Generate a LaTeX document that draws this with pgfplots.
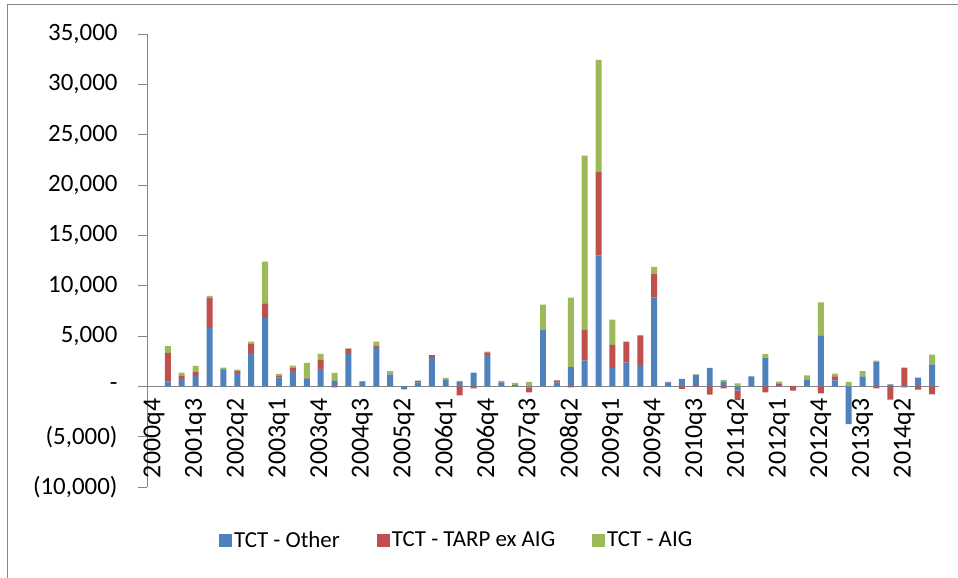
\documentclass[border=0pt]{standalone}
\usepackage{pgfplots}
\usepackage{pgfplotstable}
\pgfplotsset{compat=1.18}
\usepackage{fontspec}
\setmainfont{Carlito}

\definecolor{xlblue}{HTML}{4F81BD}
\definecolor{xlred}{HTML}{C0504D}
\definecolor{xlgreen}{HTML}{9BBB59}
\definecolor{axisgray}{HTML}{868686}

% quarter index, TCT components (millions)
\pgfplotstableread{
i  other  tarp   aig
0  0      0      0
1  470    2860   660
2  740    300    330
3  1040   360    630
4  5800   2950   230
5  1660   50     150
6  1300   260    100
7  3290   900    250
8  6780   1470   4150
9  900    140    200
10 1500   300    260
11 770    100    1460
12 1700   900    630
13 540    -100   800
14 3230   500    50
15 450    50     0
16 3890   100    440
17 1200   0      300
18 -300   0      0
19 400    150    20
20 2800   300    0
21 700    0      150
22 500    -900   50
23 1370   -200   0
24 3130   250    80
25 400    60     80
26 150    0      200
27 -100   -500   450
28 5580   0      2530
29 400    200    0
30 1930   -100   6880
31 2560   3060   17310
32 13000  8300   11140
33 1800   2330   2490
34 2360   2070   0
35 2030   3020   0
36 8840   2300   720
37 400    50     0
38 740    -250   0
39 1150   -50    50
40 1830   -830   0
41 500    -200   140
42 -400   -960   300
43 1000   0      0
44 2790   -600   400
45 50     200    220
46 50     -430   0
47 700    0      400
48 5050   -700   3290
49 600    400    270
50 -3750  0      440
51 1000   0      500
52 2460   -200   100
53 200    -1330  0
54 -100   1860   0
55 870    -330   0
56 2190   -800   970
}\tct

\pgfplotsset{
  tctaxis/.style={
    scale only axis,
    width=792bp, height=453bp,
    xmin=-0.5, xmax=56.5,
    ymin=-10000, ymax=35000,
    ybar stacked, bar width=0.43,
    clip=false,
  },
}

\begin{document}
\begin{tikzpicture}
\path[use as bounding box] (-147bp,-91bp) rectangle (811bp,487bp);
\draw[axisgray, line width=0.8bp] (-140bp,-91bp) -- (-140bp,483bp) -- (811bp,483bp);

% positive parts
\begin{axis}[
    tctaxis,
    axis y line*=left,
    axis x line*=middle,
    axis line style={axisgray, line width=0.9bp, -},
    scaled y ticks=false,
    ytick={-10000,-5000,0,5000,10000,15000,20000,25000,30000,35000},
    yticklabels={{(10,000)},{(5,000)},-,{5,000},{10,000},{15,000},{20,000},{25,000},{30,000},{35,000}},
    yticklabel style={font=\fontsize{25}{28}\selectfont, anchor=east, xshift=-17bp},
    ytick align=outside,
    ytick style={axisgray, line width=0.9bp},
    major tick length=9bp,
    xtick={0,3,...,54},
    xticklabels={2000q4,2001q3,2002q2,2003q1,2003q4,2004q3,2005q2,2006q1,2006q4,2007q3,2008q2,2009q1,2009q4,2010q3,2011q2,2012q1,2012q4,2013q3,2014q2},
    xticklabel style={font=\fontsize{26}{29}\selectfont, rotate=90, anchor=east},
    minor xtick={-0.5,0.5,...,56.5},
    xtick align=outside,
    every x tick/.style={draw=none},
    every minor x tick/.style={axisgray, line width=0.9bp},
    minor tick length=8bp,
    legend columns=3,
    legend style={draw=none, fill=none, at={(0.391,-0.117)}, anchor=center,
      font=\fontsize{23}{26}\selectfont,
      /tikz/every even column/.append style={column sep=35bp}},
    legend image code/.code={\fill[#1] (0bp,-6.5bp) rectangle (13bp,6.5bp);},
]
\addplot[fill=xlblue, draw=none] table[x=i, y expr={max(\thisrow{other},0)}] {\tct};
\addplot[fill=xlred, draw=none] table[x=i, y expr={max(\thisrow{tarp},0)}] {\tct};
\addplot[fill=xlgreen, draw=none] table[x=i, y expr={max(\thisrow{aig},0)}] {\tct};
\legend{TCT - Other, TCT - TARP ex AIG, TCT - AIG}
\end{axis}

% negative parts, stacked downward from zero
\begin{axis}[tctaxis, hide axis]
\addplot[fill=xlblue, draw=none] table[x=i, y expr={min(\thisrow{other},0)}] {\tct};
\addplot[fill=xlred, draw=none] table[x=i, y expr={min(\thisrow{tarp},0)}] {\tct};
\addplot[fill=xlgreen, draw=none] table[x=i, y expr={min(\thisrow{aig},0)}] {\tct};
\end{axis}
\end{tikzpicture}
\end{document}
